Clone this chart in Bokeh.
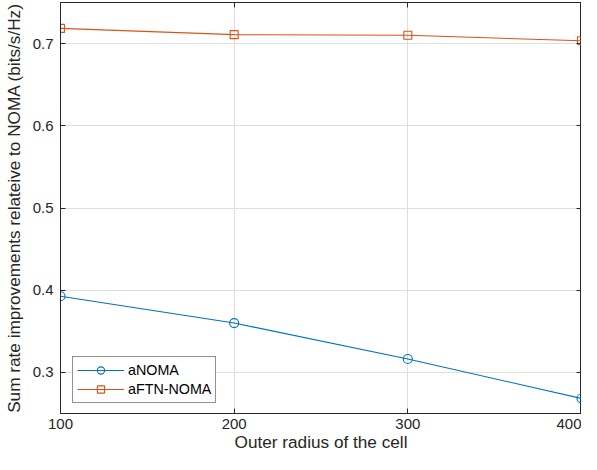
from bokeh.plotting import figure
from bokeh.models import Range1d, LinearAxis, Legend, LegendItem, FixedTicker
from bokeh.embed import file_html
from bokeh.resources import INLINE

radius = [100, 200, 300, 400]
anoma = [0.3927, 0.3600, 0.3163, 0.2683]
aftn_noma = [0.7185, 0.7109, 0.7101, 0.7034]
x_ticks = [100, 200, 300, 400]
y_ticks = [0.3, 0.4, 0.5, 0.6, 0.7]
series_names = ["aNOMA", "aFTN-NOMA"]
x_title = "Outer radius of the cell"
y_title = "Sum rate improvements relateive to NOMA (bits/s/Hz)"

BLUE = "#0072BD"
ORANGE = "#D95319"
AX = "#262626"
GRID = "#dfdfdf"
FONT = "Liberation Sans"

p = figure(width=581, height=454, output_backend="svg", toolbar_location=None,
           x_range=Range1d(100, 400), y_range=Range1d(0.25, 0.75),
           min_border_left=54, min_border_right=0, min_border_top=2, min_border_bottom=40)
p.background_fill_color = "white"
p.border_fill_color = "white"
p.outline_line_color = AX
p.outline_line_width = 1

for ax in (p.xaxis[0], p.yaxis[0]):
    ax.axis_line_color = AX
    ax.major_tick_line_color = AX
    ax.major_tick_in = 5
    ax.major_tick_out = 0
    ax.minor_tick_line_color = None
    ax.major_label_text_font = FONT
    ax.major_label_text_font_size = "15px"
    ax.major_label_text_color = AX
    ax.axis_label_text_font = FONT
    ax.axis_label_text_font_size = "17.2px"
    ax.axis_label_text_font_style = "normal"
    ax.axis_label_text_color = AX

p.xaxis.ticker = FixedTicker(ticks=x_ticks)
p.yaxis.ticker = FixedTicker(ticks=y_ticks)
p.xaxis.axis_label = x_title
p.yaxis.axis_label = y_title
p.xaxis.major_label_standoff = 5
p.xaxis.axis_label_standoff = 0
p.yaxis.major_label_standoff = 7
p.yaxis.axis_label_standoff = 6

for loc, ticks in (("above", x_ticks), ("right", y_ticks)):
    ax = LinearAxis(ticker=FixedTicker(ticks=ticks), axis_line_color=AX,
                    major_tick_line_color=AX, major_tick_in=5, major_tick_out=0,
                    minor_tick_line_color=None, major_label_text_font_size="0px",
                    major_label_text_alpha=0, major_label_standoff=0,
                    axis_label_standoff=0)
    p.add_layout(ax, loc)

p.xgrid.ticker = FixedTicker(ticks=x_ticks)
p.ygrid.ticker = FixedTicker(ticks=y_ticks)
p.xgrid.grid_line_color = GRID
p.ygrid.grid_line_color = GRID
p.xgrid.grid_line_width = 1
p.ygrid.grid_line_width = 1

l1 = p.line(radius, anoma, line_color=BLUE, line_width=1.1)
s1 = p.scatter(radius, anoma, marker="circle", size=9, line_color=BLUE, fill_color=None, line_width=1.1)
l2 = p.line(radius, aftn_noma, line_color=ORANGE, line_width=1.1)
s2 = p.scatter(radius, aftn_noma, marker="square", size=8, line_color=ORANGE, fill_color=None, line_width=1.1)

legend = Legend(items=[LegendItem(label=series_names[0], renderers=[l1, s1]),
                       LegendItem(label=series_names[1], renderers=[l2, s2])],
                location=(12, 10))
legend.label_text_font = FONT
legend.label_text_font_size = "14.3px"
legend.label_text_color = "black"
legend.glyph_width = 47
legend.glyph_height = 18
legend.label_height = 18
legend.label_standoff = 4
legend.spacing = 1
legend.padding = 4
legend.margin = 0
legend.border_line_color = AX
legend.border_line_width = 1
legend.background_fill_color = "white"
legend.background_fill_alpha = 1
p.add_layout(legend)

open("out.html", "w").write(file_html(p, INLINE))
